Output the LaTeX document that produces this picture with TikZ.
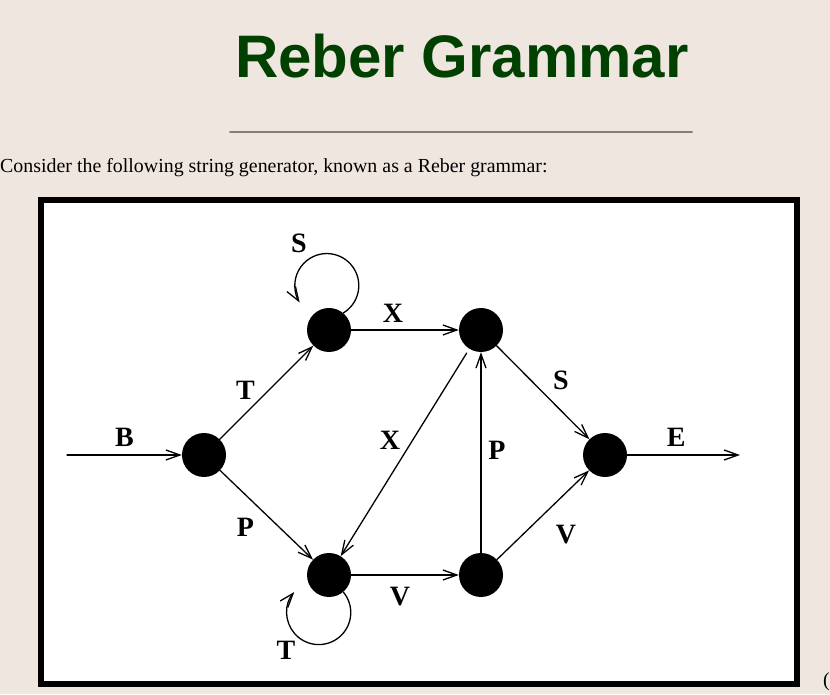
\documentclass[tikz,border=0pt]{standalone}
\usepackage{fontspec}
\setmainfont{Liberation Serif}
\newfontfamily\headfont{Liberation Sans}
\usetikzlibrary{arrows.meta}
\definecolor{pagebg}{RGB}{240,230,224}
\definecolor{headgreen}{RGB}{0,64,0}
\begin{document}
\begin{tikzpicture}[x=1pt, y=1pt, line join=round, line cap=round,
		>={Straight Barb[length=14pt,width=10pt]},
		state/.style={circle, fill=black, minimum size=44pt, inner sep=0pt},
		lbl/.style={font=\fontsize{28}{28}\selectfont\bfseries, inner sep=0pt},
		trans/.style={->, line width=1.3pt}
		]
	\fill[pagebg] (0,0) rectangle (830,694);
	\useasboundingbox (0,0) rectangle (830,694);
	% heading and intro line
	\node[font=\headfont\fontsize{60}{60}\selectfont\bfseries, text=headgreen, anchor=base, inner sep=0pt] (title) at (462,616) {Reber Grammar};
	\draw[line width=2pt, gray] (230,562) -- (692,562);
	\node[font=\fontsize{19.9}{22}\selectfont, anchor=base west, inner sep=0pt] (intro) at (0,521) {Consider the following string generator, known as a Reber grammar:};
	\node[font=\fontsize{19.9}{22}\selectfont, anchor=base west, inner sep=0pt] (cut) at (823,8) {(};
	% frame
	\draw[line width=6pt, fill=white, line join=miter] (41,10) rectangle (797,494);
	% states
	\node[state] (s1) at (204,239) {};
	\node[state] (s2) at (329,364) {};
	\node[state] (s3) at (481,364) {};
	\node[state] (s4) at (605,239) {};
	\node[state] (s5) at (329,119) {};
	\node[state] (s6) at (481,119) {};
	\coordinate (in) at (67,239);
	\coordinate (out) at (740,239);
	% transitions
	\draw[trans] (in) -- node[lbl, yshift=18]{B} (s1);
	\draw[trans] (s1) -- node[lbl, xshift=-21, yshift=2.5]{T} (s2);
	\draw[trans] (s1) -- node[lbl, xshift=-21, yshift=-12]{P} (s5);
	\draw[trans] (s2) -- node[lbl, xshift=-12, yshift=17]{X} (s3);
	\draw[trans, shorten <=5pt] (s3) -- node[lbl, xshift=-15, yshift=12]{X} (s5);
	\draw[trans] (s6) -- node[lbl, xshift=16, yshift=2.5]{P} (s3);
	\draw[trans] (s3) -- node[lbl, xshift=18, yshift=12]{S} (s4);
	\draw[trans] (s6) -- node[lbl, xshift=23, yshift=-20]{V} (s4);
	\draw[trans] (s5) -- node[lbl, xshift=-5, yshift=-22]{V} (s6);
	\draw[trans] (s4) -- node[lbl, xshift=-7.5, yshift=18]{E} (out);
	% self loops
	\draw[trans] (s2.50) arc[start angle=-59, end angle=212, radius=32] node[lbl] at (299,451) {S};
	\draw[trans] (s5.-50) arc[start angle=40, end angle=-220, radius=32] node[lbl] at (286,44) {T};
\end{tikzpicture}
\end{document}
